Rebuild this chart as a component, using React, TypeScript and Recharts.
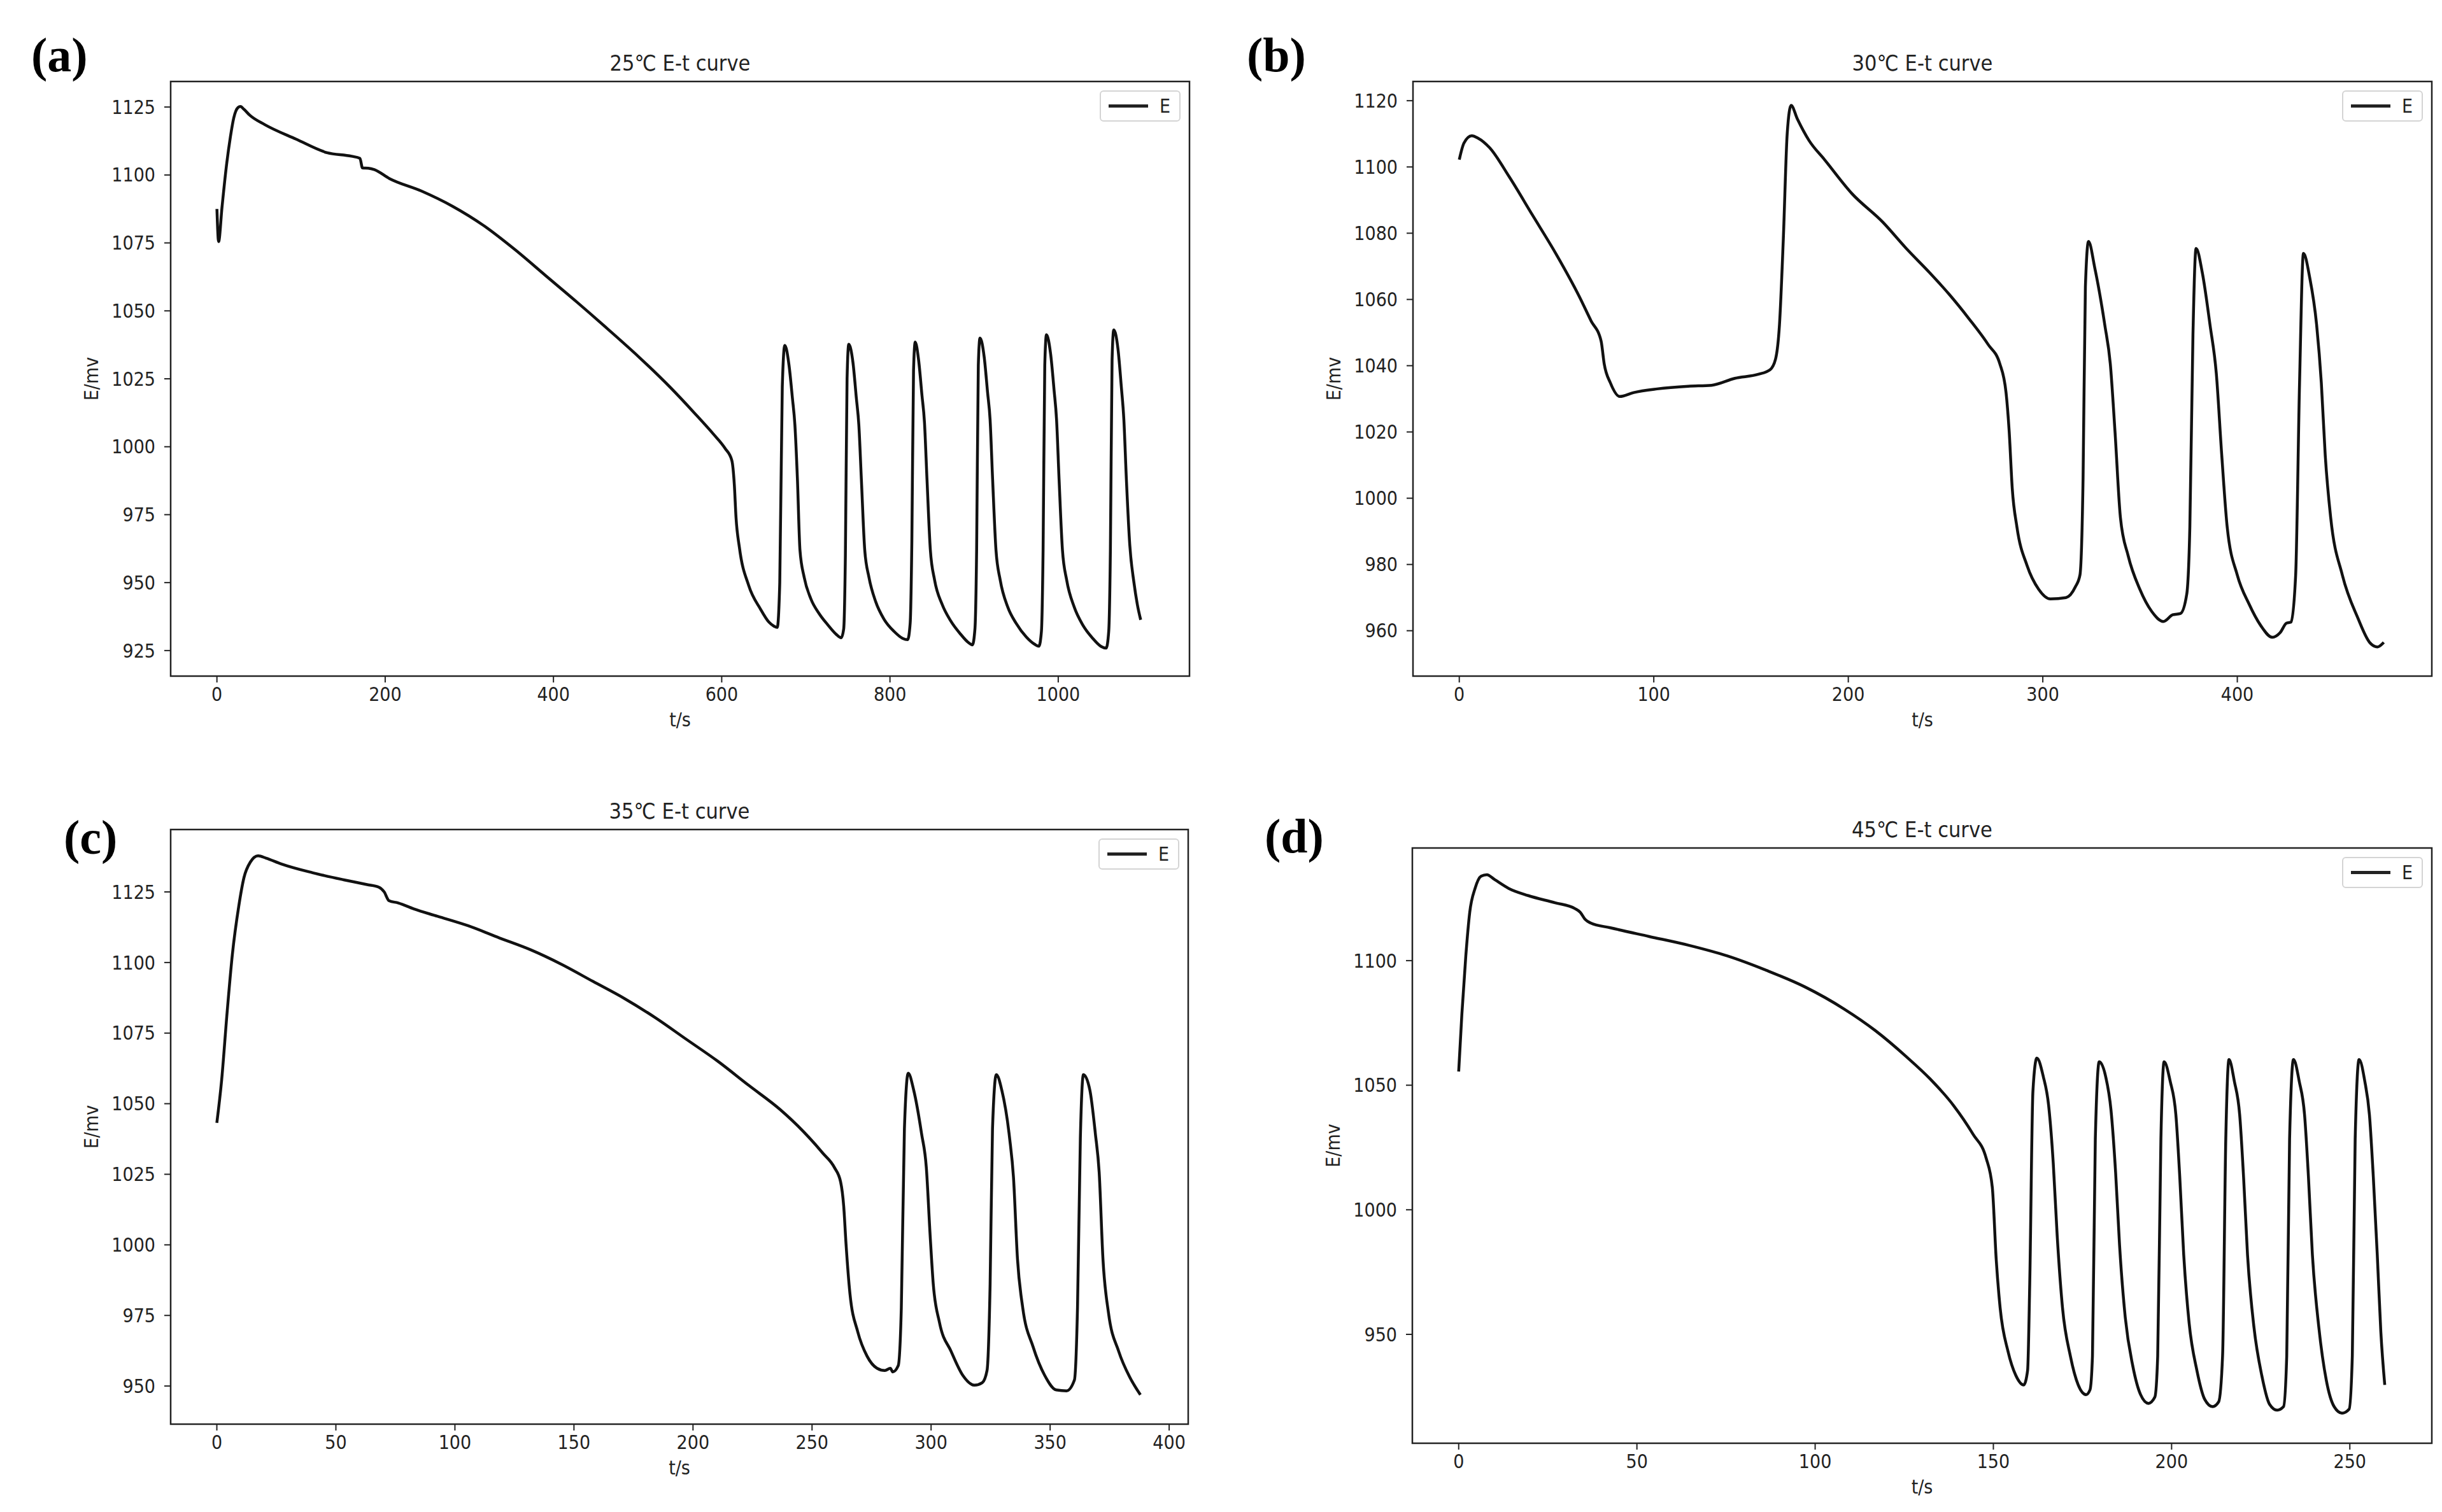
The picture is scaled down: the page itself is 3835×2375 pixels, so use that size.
import React from "react";
import { LineChart, Line, XAxis, YAxis, ReferenceArea, Legend } from "recharts";

// (a) 25℃
const tA = [0, 2, 6, 11, 16, 20, 25, 28, 32, 39, 57, 94, 131, 160, 170, 173, 180, 187, 205, 243, 280, 317, 354, 391, 428, 465, 502, 539, 567, 590, 604, 612, 615, 617, 621, 632, 646, 656, 662, 666, 669, 672, 675, 680, 684, 687, 690, 693, 698, 706, 716, 726, 736, 742, 745, 747, 749, 751, 756, 760, 763, 766, 770, 775, 783, 793, 805, 815, 821, 824, 826, 828, 830, 834, 838, 841, 844, 848, 853, 862, 872, 884, 893, 898, 901, 903, 905, 907, 912, 916, 919, 922, 926, 931, 940, 950, 962, 972, 977, 980, 982, 984, 986, 991, 995, 998, 1001, 1005, 1010, 1019, 1029, 1041, 1051, 1057, 1060, 1062, 1064, 1066, 1071, 1075, 1078, 1081, 1085, 1090, 1094, 1098];
const eA = [1087.5, 1075.5, 1088, 1102.6, 1114, 1121, 1124.8, 1125.2, 1124.2, 1122, 1118.5, 1113.2, 1108.2, 1106.9, 1106.1, 1102.6, 1102.5, 1102, 1098.7, 1094.1, 1088.5, 1081.4, 1072.6, 1062.9, 1053.2, 1043.2, 1032.9, 1021.8, 1012.6, 1004.7, 999.4, 995, 986, 974, 963, 949, 940.3, 935.5, 934, 933.5, 950, 1022, 1037.3, 1030, 1018, 1008, 988, 962, 952, 944, 938.5, 934.5, 931, 929.7, 933, 960, 1025, 1037.7, 1031, 1018, 1008, 988, 962, 952, 943, 936.5, 932, 929.5, 929, 935, 965, 1028, 1038.5, 1032, 1019, 1009, 988, 962, 951, 942, 936, 931, 928, 927.1, 933, 962, 1030, 1040, 1033, 1020, 1010, 988, 962, 951, 941, 935, 930, 927.3, 926.6, 932, 962, 1030, 1041.2, 1034, 1021, 1010, 988, 962, 951, 941, 934.5, 929.5, 926.5, 925.9, 932, 962, 1032, 1043, 1036, 1022, 1010, 988, 964, 950, 942, 936.3];

// (b) 30℃
const tB = [0, 2.4, 6.4, 9.6, 15.6, 25.6, 37.6, 49.6, 61.7, 67.7, 72.9, 74.5, 77.7, 82.5, 89.7, 101.7, 117.7, 129.7, 141.7, 153.7, 159.8, 162.6, 164.6, 166.6, 168.6, 170.6, 173.8, 179.8, 187.8, 201.8, 217.8, 229.8, 241.8, 251.8, 261.9, 271.9, 277.9, 281.1, 282.7, 284.3, 286.7, 291.9, 297.9, 303.9, 311.9, 316.7, 319.1, 320.7, 321.9, 323.5, 326.7, 331.9, 334.7, 337.1, 339.9, 343.9, 349.9, 355.9, 362, 366.8, 370.8, 374, 375.6, 377.2, 378.8, 382, 386, 389.2, 392, 394.8, 400, 406, 412, 418, 422, 425.3, 427.6, 430, 432, 434, 437.2, 440.8, 443.2, 445.2, 448, 454, 462, 468, 472, 475.3];
const eB = [1102.2, 1107.2, 1109.4, 1108.7, 1105.8, 1097.1, 1085.5, 1073.9, 1060.9, 1053.6, 1047.5, 1040.6, 1034.8, 1030.7, 1031.9, 1033.0, 1033.8, 1034.1, 1036.2, 1037.4, 1038.8, 1042, 1052.2, 1078.3, 1110.1, 1118.6, 1114.5, 1108, 1102.2, 1092, 1083.3, 1075.4, 1068.1, 1061.6, 1054.3, 1046.4, 1040.6, 1031.9, 1020.3, 1002.9, 991.3, 979.7, 972.5, 969.6, 970, 973.2, 976.8, 1005.8, 1063.8, 1077.5, 1069.6, 1052.2, 1040.6, 1020.3, 994.2, 982.6, 972.5, 965.9, 962.8, 964.8, 965.2, 971, 991.3, 1049.3, 1075.4, 1068.1, 1052.2, 1037.7, 1013, 991.3, 976.8, 968.1, 961.6, 958, 959.4, 962.3, 962.6, 976.8, 1034.8, 1073.9, 1066.7, 1052.2, 1034.8, 1013, 994.2, 976.8, 963.8, 956.5, 955.1, 956.5];

// (c) 35℃
const tC = [0, 2, 4.3, 6.5, 9.2, 11.4, 14.1, 17.3, 20.6, 27.1, 40.2, 53.3, 63.1, 68, 70.3, 72.3, 76.2, 82.7, 92.6, 105.6, 118.7, 131.8, 144.9, 158, 171.1, 184.1, 197.2, 210.3, 223.4, 236.5, 246.3, 254.5, 259.4, 262, 263.3, 264.3, 265.9, 269.2, 273.1, 277.3, 280.6, 282.9, 283.9, 286.2, 287.5, 288.8, 290.4, 292.7, 296, 298, 299.6, 300.9, 303.5, 308.4, 313.3, 318.2, 321.5, 323.5, 324.8, 325.8, 327.4, 329.7, 333, 334.6, 336.3, 338.5, 342.8, 347.7, 352.6, 356.9, 360.2, 361.5, 362.7, 364, 366.7, 369, 370.6, 372.2, 374.5, 378.8, 383.6, 387.9];
const eC = [1043.2, 1058.2, 1082.2, 1102.7, 1119.9, 1130.1, 1135.6, 1137.8, 1137, 1134.9, 1131.8, 1129.3, 1127.6, 1126.7, 1125, 1121.9, 1121.1, 1119, 1116.4, 1113, 1108.7, 1104.5, 1099.3, 1093.3, 1087.3, 1080.5, 1072.8, 1065.1, 1056.5, 1048, 1040.2, 1032.5, 1027.4, 1022.3, 1013.7, 1000, 982.9, 969.2, 960.6, 956.3, 955.5, 956.3, 955, 957.2, 977.7, 1041.1, 1060.8, 1054.8, 1039.4, 1027.4, 1003.4, 986.3, 972.6, 962.3, 953.8, 950.3, 951.2, 955.5, 986.3, 1041.1, 1060.3, 1054.8, 1037.7, 1024, 994.9, 977.7, 964, 953.8, 948.6, 948.3, 952.1, 977.7, 1037.7, 1060.3, 1054.8, 1039.4, 1025.7, 994.9, 976, 962.3, 952.9, 946.9];

// (d) 45℃
const tD = [0, 0.9, 2, 3.1, 4.6, 6.3, 7.9, 10.1, 14, 19.5, 27.1, 32.6, 34.1, 35.5, 37, 42.5, 53.4, 64.4, 75.3, 86.3, 97.2, 108.1, 116.9, 125.7, 132.2, 138.8, 144.3, 148, 149.7, 150.8, 151.9, 154.1, 156.3, 158.5, 159.6, 160.2, 161.1, 162.2, 164, 165.5, 166.8, 167.9, 169.4, 171.6, 173.8, 176, 177.1, 177.8, 178.6, 179.7, 181.5, 183, 184.3, 185.4, 187, 189.1, 191.3, 193.5, 195.3, 196.1, 197, 197.9, 199.6, 201.2, 202.3, 203.4, 204.9, 207.1, 209.3, 211.5, 213.2, 214.3, 215.2, 216.1, 217.6, 219.1, 220.2, 221.3, 223.1, 225.3, 227.5, 229.6, 231.4, 232.3, 233.1, 234.2, 235.8, 237.3, 238.4, 239.5, 241.3, 243.4, 245.6, 247.8, 249.8, 250.7, 251.5, 252.6, 254.2, 255.5, 256.6, 257.7, 258.7, 259.8];
const eD = [1055.5, 1078.7, 1101.9, 1119.4, 1129, 1133.9, 1134.5, 1132.5, 1129, 1126.1, 1123.2, 1120.9, 1119.4, 1116.5, 1115.1, 1113.2, 1109.7, 1106.2, 1101.9, 1096.1, 1089.4, 1080.6, 1071.9, 1061.3, 1052.6, 1041.9, 1030.3, 1020.6, 1009, 980, 960.6, 943.2, 933.5, 929.7, 935.5, 970.3, 1047.7, 1060.9, 1053.5, 1041.9, 1018.7, 989.7, 960.6, 941.3, 929.7, 925.8, 927.7, 941.3, 1028.4, 1059.4, 1053.5, 1040, 1014.8, 985.8, 956.8, 937.4, 925.8, 922.3, 924.8, 941.3, 1028.4, 1059.4, 1051.6, 1038.1, 1012.9, 981.9, 954.8, 935.5, 923.9, 921, 922.9, 941.3, 1028.4, 1060.3, 1051.6, 1038.1, 1012.9, 981.9, 952.9, 933.5, 921.9, 919.6, 921, 941.3, 1028.4, 1060.3, 1051.6, 1038.1, 1012.9, 981.9, 952.9, 931.6, 921, 918.4, 920, 941.3, 1028.4, 1060.3, 1051.6, 1038.1, 1012.9, 981.9, 951, 929.7];

const xTicksA = [0, 200, 400, 600, 800, 1000];
const yTicksA = [925, 950, 975, 1000, 1025, 1050, 1075, 1100, 1125];
const xTicksB = [0, 100, 200, 300, 400];
const yTicksB = [960, 980, 1000, 1020, 1040, 1060, 1080, 1100, 1120];
const xTicksC = [0, 50, 100, 150, 200, 250, 300, 350, 400];
const yTicksC = [950, 975, 1000, 1025, 1050, 1075, 1100, 1125];
const xTicksD = [0, 50, 100, 150, 200, 250];
const yTicksD = [950, 1000, 1050, 1100];

const FONT = "'DejaVu Sans Condensed', 'DejaVu Sans', sans-serif";
const INK = "#222";
const AXIS_W = 150;
const XAXIS_H = 50;

type Rect = { left: number; top: number; right: number; bottom: number };
type Box = { left: number; top: number; width: number; height: number };

function LegendBox() {
  return (
    <div
      style={{
        width: 127,
        height: 49,
        boxSizing: "border-box",
        border: "2px solid #d4d4d4",
        borderRadius: 6,
        background: "rgba(255,255,255,0.85)",
        display: "flex",
        alignItems: "center",
      }}
    >
      <div style={{ marginLeft: 12, width: 62, height: 5, background: "#222" }} />
      <span style={{ marginLeft: 18, fontFamily: FONT, fontSize: 30, color: INK, lineHeight: 1 }}>E</span>
    </div>
  );
}

function Panel(props: {
  box: Box;
  plot: Rect;
  tag: string;
  tagX: number;
  tagY: number;
  title: string;
  t: number[];
  e: number[];
  xDomain: [number, number];
  yDomain: [number, number];
  xTicks: number[];
  yTicks: number[];
}) {
  const { box, plot, tag, tagX, tagY, title, t, e, xDomain, yDomain, xTicks, yTicks } = props;
  const data = t.map((v, i) => ({ t: v, E: e[i] }));
  const margin = {
    top: plot.top - box.top,
    left: plot.left - box.left - AXIS_W,
    right: box.left + box.width - plot.right,
    bottom: box.top + box.height - plot.bottom - XAXIS_H,
  };
  const tickStyle = { fill: INK, fontSize: 30, fontFamily: FONT };
  return (
    <>
      <div
        style={{
          position: "absolute",
          left: tagX,
          top: tagY,
          font: "bold 76px 'Liberation Serif', 'Times New Roman', serif",
          lineHeight: 1,
          color: "#000",
        }}
      >
        {tag}
      </div>
      <div
        style={{
          position: "absolute",
          left: plot.left,
          width: plot.right - plot.left,
          top: plot.top - 47,
          textAlign: "center",
          fontFamily: FONT,
          fontSize: 34,
          lineHeight: "36px",
          color: INK,
        }}
      >
        {title}
      </div>
      <div style={{ position: "absolute", left: box.left, top: box.top }}>
        <LineChart width={box.width} height={box.height} data={data} margin={margin}>
          <XAxis
            type="number"
            dataKey="t"
            domain={xDomain}
            allowDataOverflow
            ticks={xTicks}
            height={XAXIS_H}
            tickSize={10}
            tickMargin={8}
            tick={tickStyle}
            tickLine={{ stroke: INK, strokeWidth: 2 }}
            axisLine={false}
            label={{ value: "t/s", position: "bottom", offset: 8, style: tickStyle }}
          />
          <YAxis
            type="number"
            domain={yDomain}
            allowDataOverflow
            ticks={yTicks}
            width={AXIS_W}
            tickSize={10}
            tickMargin={14}
            tick={tickStyle}
            tickLine={{ stroke: INK, strokeWidth: 2 }}
            axisLine={false}
            label={{
              value: "E/mv",
              angle: -90,
              position: "insideLeft",
              offset: 25,
              style: { ...tickStyle, textAnchor: "middle" },
            }}
          />
          <ReferenceArea
            x1={xDomain[0]}
            x2={xDomain[1]}
            y1={yDomain[0]}
            y2={yDomain[1]}
            fill="none"
            stroke={INK}
            strokeWidth={2.5}
            ifOverflow="visible"
          />
          <Line
            dataKey="E"
            name="E"
            type="monotone"
            stroke="#111"
            strokeWidth={4.5}
            dot={false}
            isAnimationActive={false}
          />
          <Legend
            layout="vertical"
            align="center"
            verticalAlign="middle"
            content={() => <LegendBox />}
            wrapperStyle={{
              position: "absolute",
              left: plot.right - box.left - 141,
              top: plot.top - box.top + 14,
              width: 127,
              height: 49,
            }}
          />
        </LineChart>
      </div>
    </>
  );
}

export default function App() {
  return (
    <div
      style={{
        position: "absolute",
        left: 0,
        top: 0,
        width: 3835,
        height: 2375,
        background: "#fff",
        overflow: "hidden",
      }}
    >
      <Panel
        box={{ left: 0, top: 0, width: 1918, height: 1180 }}
        plot={{ left: 268, top: 128, right: 1868, bottom: 1062 }}
        tag="(a)"
        tagX={49}
        tagY={48}
        title="25℃ E-t curve"
        t={tA}
        e={eA}
        xDomain={[-55, 1156]}
        yDomain={[915.6, 1134.4]}
        xTicks={xTicksA}
        yTicks={yTicksA}
      />
      <Panel
        box={{ left: 1918, top: 0, width: 1917, height: 1180 }}
        plot={{ left: 2219, top: 128, right: 3819, bottom: 1062 }}
        tag="(b)"
        tagX={1958}
        tagY={48}
        title="30℃ E-t curve"
        t={tB}
        e={eB}
        xDomain={[-23.8, 500]}
        yDomain={[946.3, 1125.8]}
        xTicks={xTicksB}
        yTicks={yTicksB}
      />
      <Panel
        box={{ left: 0, top: 1180, width: 1918, height: 1195 }}
        plot={{ left: 268, top: 1303, right: 1866, bottom: 2237 }}
        tag="(c)"
        tagX={100}
        tagY={1277}
        title="35℃ E-t curve"
        t={tC}
        e={eC}
        xDomain={[-19.4, 408]}
        yDomain={[936.5, 1147.1]}
        xTicks={xTicksC}
        yTicks={yTicksC}
      />
      <Panel
        box={{ left: 1918, top: 1180, width: 1917, height: 1195 }}
        plot={{ left: 2218, top: 1332, right: 3819, bottom: 2267 }}
        tag="(d)"
        tagX={1986}
        tagY={1275}
        title="45℃ E-t curve"
        t={tD}
        e={eD}
        xDomain={[-13, 273]}
        yDomain={[906.3, 1145.2]}
        xTicks={xTicksD}
        yTicks={yTicksD}
      />
    </div>
  );
}
